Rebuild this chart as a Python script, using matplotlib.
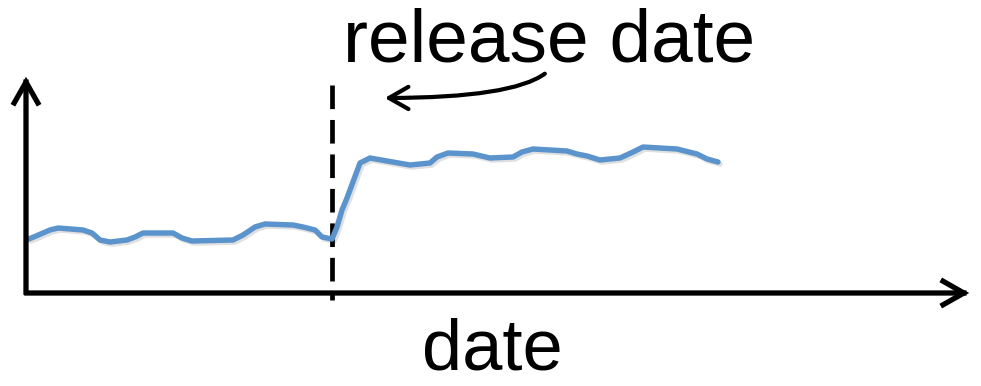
import matplotlib
matplotlib.use("Agg")
import matplotlib.pyplot as plt
import matplotlib.patheffects as pe
from matplotlib.patches import FancyArrowPatch

# values (pixel-like units, y grows downward)
before_x = [29, 43, 50, 58, 83, 92, 100, 110, 127, 135, 143, 157, 173, 182, 192,
            233, 243, 255, 265, 293, 303, 315, 322, 332]
before_y = [239, 233, 230, 228, 230, 233, 240, 242, 240, 237, 233, 233, 233, 238, 241,
            240, 235, 227, 224, 225, 227, 230, 237, 239]
after_x = [332, 337, 342, 347, 360, 370, 387, 410, 430, 437, 448, 473, 490, 513, 522,
           533, 567, 577, 587, 600, 620, 633, 643, 677, 697, 707, 718]
after_y = [238, 227, 210, 198, 163, 158, 161, 165, 163, 157, 153, 154, 158, 157, 152,
           149, 151, 154, 156, 160, 158, 152, 147, 149, 154, 159, 162]
release_x = 332
title_text = "release date"
xlabel_text = "date"

fig = plt.figure(figsize=(9.81, 3.86), dpi=100)
ax = fig.add_axes([0, 0, 1, 1])
ax.set_xlim(0, 981)
ax.set_ylim(386, 0)
ax.axis("off")

shadow = [pe.SimpleLineShadow(offset=(1.5, -1.5), shadow_color="black", alpha=0.12), pe.Normal()]

# blue series
ax.plot(before_x + after_x[1:], before_y + after_y[1:], color="#5B93CC", lw=3.9,
        solid_capstyle="round", solid_joinstyle="round", path_effects=shadow, zorder=3)

# release marker
ax.plot([release_x, release_x], [85, 300], color="black", lw=3.4,
        linestyle=(0, (5.0, 2.3)), zorder=2)

# axes drawn as arrows
for start, end in [((26, 295), (26, 74)), ((24, 293), (972, 293))]:
    arr = FancyArrowPatch(start, end, arrowstyle="->,head_length=15,head_width=8.5",
                          mutation_scale=1, lw=3.8, color="black",
                          capstyle="projecting", joinstyle="miter", zorder=4)
    ax.add_patch(arr)

# curved pointer from the label
ptr = FancyArrowPatch((547, 72), (382, 98),
                      connectionstyle="angle3,angleA=40,angleB=0",
                      arrowstyle="->,head_length=14,head_width=8",
                      mutation_scale=1, lw=3.0, color="black", zorder=4)
ax.add_patch(ptr)

ax.text(549, 61, title_text, fontsize=54, family="Liberation Sans",
        ha="center", va="baseline")
ax.text(492, 385, xlabel_text, fontsize=52, family="Liberation Sans",
        ha="center", va="bottom")

fig.savefig("out.png", dpi=100)
